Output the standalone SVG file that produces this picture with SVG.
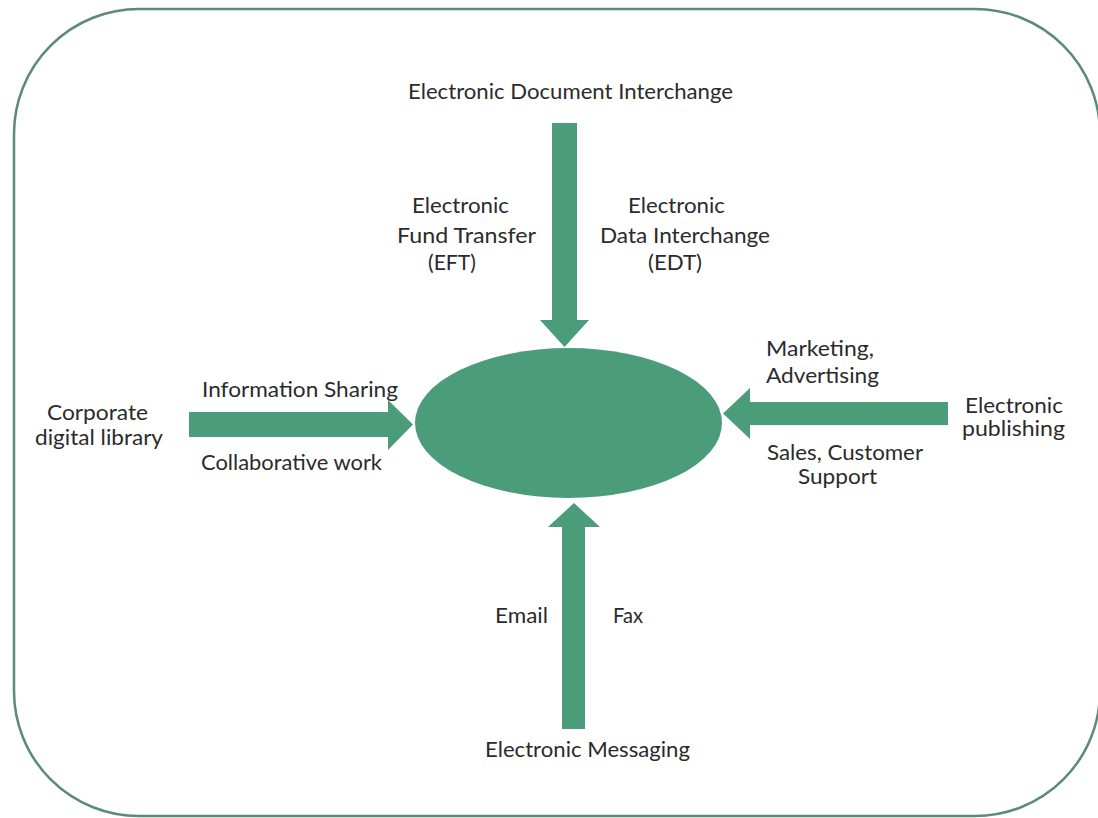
<svg xmlns="http://www.w3.org/2000/svg" width="1098" height="818" viewBox="0 0 1098 818">
  <style>
    .frame { fill: #ffffff; stroke: #5b8a78; stroke-width: 2.5; }
    .hub { fill: #4b9c7b; }
    .arrow { fill: #4b9c7b; }
    text { font-family: Lato, "Liberation Sans", sans-serif; font-size: 21px; fill: #2b2b2b; }
  </style>
  <rect width="1098" height="818" fill="#ffffff"/>
  <rect class="frame" x="14" y="9" width="1086" height="807" rx="125" ry="125"/>

  <g id="connectors">
    <!-- top: Electronic Document Interchange -->
    <polygon class="arrow" points="552,123 577,123 577,320 589,320 564.5,347 540,320 552,320"/>
    <!-- left: Corporate digital library -->
    <polygon class="arrow" points="189,412 388,412 388,400 413,424.5 388,450 388,437 189,437"/>
    <!-- right: Electronic publishing -->
    <polygon class="arrow" points="948,402 750,402 750,388 723,413.5 750,439 750,425 948,425"/>
    <!-- bottom: Electronic Messaging -->
    <polygon class="arrow" points="562,729 585,729 585,527 600,527 574,503 548,527 562,527"/>
  </g>

  <g id="hub">
    <ellipse class="hub" cx="568.5" cy="423" rx="153.5" ry="75"/>
  </g>

  <g id="node-edi">
    <text x="408" y="99" textLength="325" lengthAdjust="spacingAndGlyphs">Electronic Document Interchange</text>
  </g>

  <g id="node-eft">
    <text x="412" y="213" textLength="97" lengthAdjust="spacingAndGlyphs">Electronic</text>
    <text x="397" y="243" textLength="139" lengthAdjust="spacingAndGlyphs">Fund  Transfer</text>
    <text x="428" y="270" textLength="48" lengthAdjust="spacingAndGlyphs">(EFT)</text>
  </g>

  <g id="node-edt">
    <text x="628" y="213" textLength="97" lengthAdjust="spacingAndGlyphs">Electronic</text>
    <text x="600" y="243" textLength="170" lengthAdjust="spacingAndGlyphs">Data Interchange</text>
    <text x="648" y="270" textLength="54" lengthAdjust="spacingAndGlyphs">(EDT)</text>
  </g>

  <g id="node-library">
    <text x="47" y="420" textLength="101" lengthAdjust="spacingAndGlyphs">Corporate</text>
    <text x="35" y="445" textLength="128" lengthAdjust="spacingAndGlyphs">digital library</text>
  </g>

  <g id="node-sharing">
    <text x="202" y="397" textLength="196" lengthAdjust="spacingAndGlyphs">Information Sharing</text>
    <text x="201" y="470" textLength="181" lengthAdjust="spacingAndGlyphs">Collaborative work</text>
  </g>

  <g id="node-marketing">
    <text x="766" y="356" textLength="108" lengthAdjust="spacingAndGlyphs">Marketing,</text>
    <text x="766" y="383" textLength="113" lengthAdjust="spacingAndGlyphs">Advertising</text>
  </g>

  <g id="node-publishing">
    <text x="965" y="413" textLength="98" lengthAdjust="spacingAndGlyphs">Electronic</text>
    <text x="962" y="436" textLength="103" lengthAdjust="spacingAndGlyphs">publishing</text>
  </g>

  <g id="node-sales">
    <text x="767" y="460" textLength="156" lengthAdjust="spacingAndGlyphs">Sales, Customer</text>
    <text x="798" y="484" textLength="79" lengthAdjust="spacingAndGlyphs">Support</text>
  </g>

  <g id="node-messaging">
    <text x="495" y="623" textLength="53" lengthAdjust="spacingAndGlyphs">Email</text>
    <text x="613" y="623" textLength="30" lengthAdjust="spacingAndGlyphs">Fax</text>
    <text x="485" y="757" textLength="205" lengthAdjust="spacingAndGlyphs">Electronic Messaging</text>
  </g>
</svg>
